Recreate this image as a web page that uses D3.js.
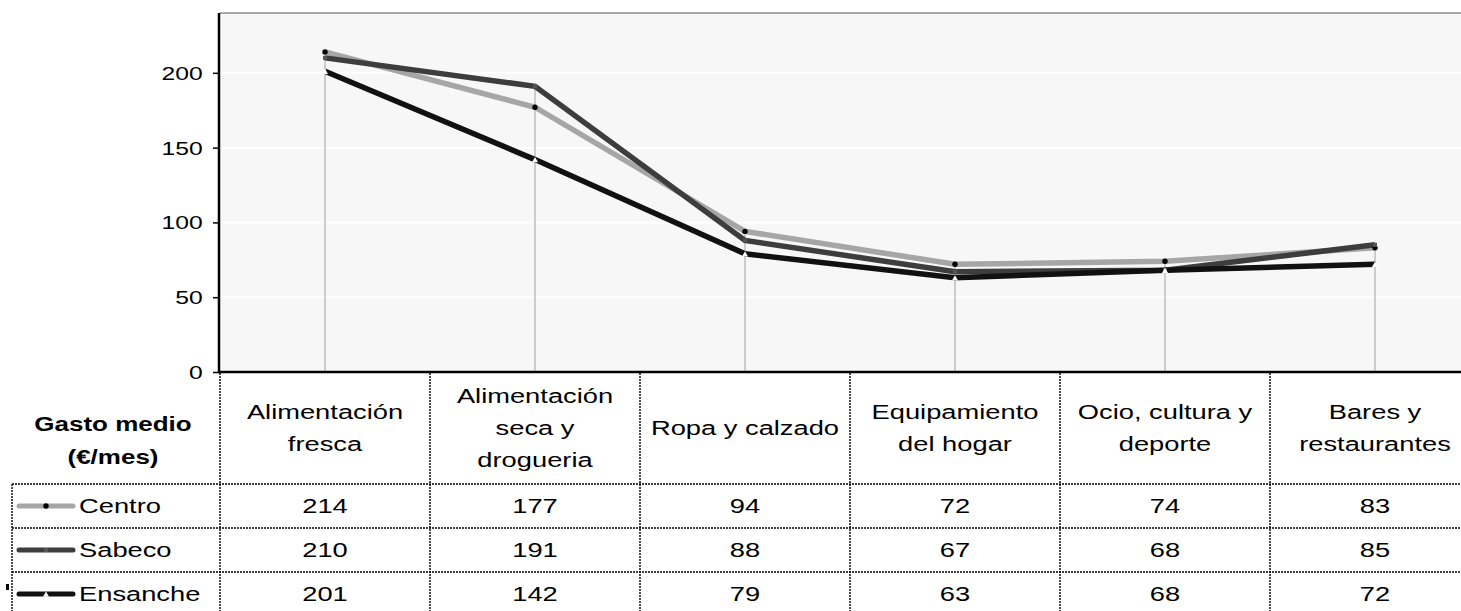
<!DOCTYPE html>
<html>
<head>
<meta charset="utf-8">
<script src="https://cdn.jsdelivr.net/npm/d3@7"></script>
<style>
  html, body { margin: 0; padding: 0; background: #fff; }
  svg { display: block; font-family: "Liberation Sans", Arial, sans-serif; }
</style>
</head>
<body>
<svg id="chart" width="1461" height="611"></svg>
<script>
// Categories (header lines) and monthly spend per shopping area
const categories = ["Alimentación fresca", "Alimentación seca y drogueria", "Ropa y calzado",
                    "Equipamiento del hogar", "Ocio, cultura y deporte", "Bares y restaurantes"];
const categoryLines = [["Alimentación", "fresca"], ["Alimentación", "seca y", "drogueria"], ["Ropa y calzado"],
                       ["Equipamiento", "del hogar"], ["Ocio, cultura y", "deporte"], ["Bares y", "restaurantes"]];
const seriesNames = ["Centro", "Sabeco", "Ensanche"];
const centro   = [214, 177, 94, 72, 74, 83];
const sabeco   = [210, 191, 88, 67, 68, 85];
const ensanche = [201, 142, 79, 63, 68, 72];
const yTicks = [0, 50, 100, 150, 200];
const headerTitle = ["Gasto medio", "(€/mes)"];

const series = [
  { name: seriesNames[0], values: centro,   color: "#a6a6a6", marker: "dot" },
  { name: seriesNames[1], values: sabeco,   color: "#3d3d3d", marker: "square" },
  { name: seriesNames[2], values: ensanche, color: "#111111", marker: "triangle" }
];

const W = 1461, H = 611;
const plot = { left: 220, top: 13, bottom: 372, right: 1480 };
const SX = 1.3; // horizontal text stretch
const svg = d3.select("#chart");

const x = d3.scaleBand().domain(categories).range([plot.left, plot.right]);
const y = d3.scaleLinear().domain([0, 240]).range([plot.bottom, plot.top]);
const cx = c => x(c) + x.bandwidth() / 2;

function stext(g, px, py, str, size, anchor, weight) {
  return g.append("text")
    .attr("transform", `translate(${px},${py}) scale(${SX},1)`)
    .attr("text-anchor", anchor || "middle")
    .attr("dominant-baseline", "central")
    .attr("font-size", size)
    .attr("font-weight", weight || "normal")
    .attr("fill", "#000")
    .text(str);
}

// plot background
svg.append("rect").attr("x", plot.left).attr("y", plot.top)
  .attr("width", W - plot.left).attr("height", plot.bottom - plot.top).attr("fill", "#f7f7f7");

// gridlines
svg.append("g").selectAll("line").data(yTicks.filter(d => d > 0)).join("line")
  .attr("x1", plot.left).attr("x2", W).attr("y1", d => y(d)).attr("y2", d => y(d))
  .attr("stroke", "#ffffff").attr("stroke-width", 2);

// top border
svg.append("line").attr("x1", plot.left).attr("x2", W).attr("y1", plot.top).attr("y2", plot.top)
  .attr("stroke", "#8c8c8c").attr("stroke-width", 1.5);

// drop lines from the highest point of each category
svg.append("g").selectAll("line").data(categories).join("line")
  .attr("x1", d => cx(d)).attr("x2", d => cx(d))
  .attr("y1", (d, i) => y(d3.max(series, s => s.values[i])))
  .attr("y2", plot.bottom)
  .attr("stroke", "#cccccc").attr("stroke-width", 2);

// y axis
const yAxis = svg.append("g").attr("transform", `translate(${plot.left - 1},0)`)
  .call(d3.axisLeft(y).tickValues(yTicks).tickSize(6).tickPadding(0));
yAxis.select(".domain").remove();
yAxis.selectAll(".tick line").attr("stroke", "#000").attr("stroke-width", 1.5);
yAxis.selectAll(".tick text")
  .attr("x", -12.5).attr("dy", "0.34em")
  .attr("transform", `scale(${SX},1)`)
  .attr("font-size", 19).attr("font-family", "Liberation Sans, Arial, sans-serif").attr("fill", "#000");
svg.append("line").attr("x1", plot.left - 1).attr("x2", plot.left - 1)
  .attr("y1", plot.top).attr("y2", plot.bottom + 1).attr("stroke", "#000").attr("stroke-width", 2.5);

// series lines
const line = d3.line().x((d, i) => cx(categories[i])).y(d => y(d));
svg.append("g").selectAll("path").data(series).join("path")
  .attr("d", s => line(s.values))
  .attr("fill", "none").attr("stroke", s => s.color).attr("stroke-width", 5.5)
  .attr("stroke-linejoin", "miter");

// markers
function drawMarker(g, type, px, py) {
  if (type === "dot") {
    g.append("circle").attr("cx", px).attr("cy", py).attr("r", 2.7).attr("fill", "#000");
  } else if (type === "triangle") {
    g.append("path").attr("d", d3.symbol(d3.symbolTriangle, 16)()).attr("transform", `translate(${px},${py + 1})`)
      .attr("fill", "#ffffff");
  } else {
    g.append("rect").attr("x", px - 2).attr("y", py - 2).attr("width", 4).attr("height", 4).attr("fill", "#555");
  }
}
const mk = svg.append("g");
series.forEach(s => s.values.forEach((v, i) => drawMarker(mk, s.marker, cx(categories[i]), y(v))));

// x axis line
svg.append("line").attr("x1", plot.left - 2).attr("x2", W).attr("y1", plot.bottom).attr("y2", plot.bottom)
  .attr("stroke", "#000").attr("stroke-width", 2.5);

// data table
const rowTops = [484, 528, 572];
const rowH = 44;
const tableLeft = 12;
const tg = svg.append("g");
const dash = "2,1";

// column dividers
tg.selectAll("line.col").data(categories).join("line").attr("class", "col")
  .attr("x1", d => x(d)).attr("x2", d => x(d)).attr("y1", plot.bottom + 1).attr("y2", H)
  .attr("stroke", "#000").attr("stroke-width", 1.4).attr("stroke-dasharray", dash);
tg.append("line").attr("x1", tableLeft).attr("x2", tableLeft).attr("y1", rowTops[0]).attr("y2", H)
  .attr("stroke", "#000").attr("stroke-width", 1.4).attr("stroke-dasharray", dash);
// row dividers
tg.selectAll("line.row").data(rowTops).join("line").attr("class", "row")
  .attr("x1", tableLeft).attr("x2", W).attr("y1", d => d).attr("y2", d => d)
  .attr("stroke", "#000").attr("stroke-width", 1.4).attr("stroke-dasharray", dash);

// header labels
const headMid = (plot.bottom + rowTops[0]) / 2;
const lineGap = 32;
categories.forEach((c, i) => {
  const lines = categoryLines[i];
  const start = headMid - (lines.length - 1) * lineGap / 2;
  lines.forEach((t, j) => stext(tg, cx(c), start + j * lineGap, t, 21));
});
stext(tg, 113, 424, headerTitle[0], 20, "middle", "bold");
stext(tg, 113, 457, headerTitle[1], 20, "middle", "bold");

// table rows: legend key + values
series.forEach((s, r) => {
  const my = rowTops[r] + rowH / 2;
  tg.append("line").attr("x1", 19).attr("x2", 73).attr("y1", my).attr("y2", my)
    .attr("stroke", s.color).attr("stroke-width", 5).attr("stroke-linecap", "round");
  drawMarker(tg, s.marker, 46, my);
  stext(tg, 79, my, s.name, 21, "start");
  s.values.forEach((v, i) => stext(tg, cx(categories[i]), my, String(v), 21));
});

// small marker left of the last row
tg.append("rect").attr("x", 6).attr("y", 584).attr("width", 3).attr("height", 6).attr("fill", "#000");
</script>
</body>
</html>
